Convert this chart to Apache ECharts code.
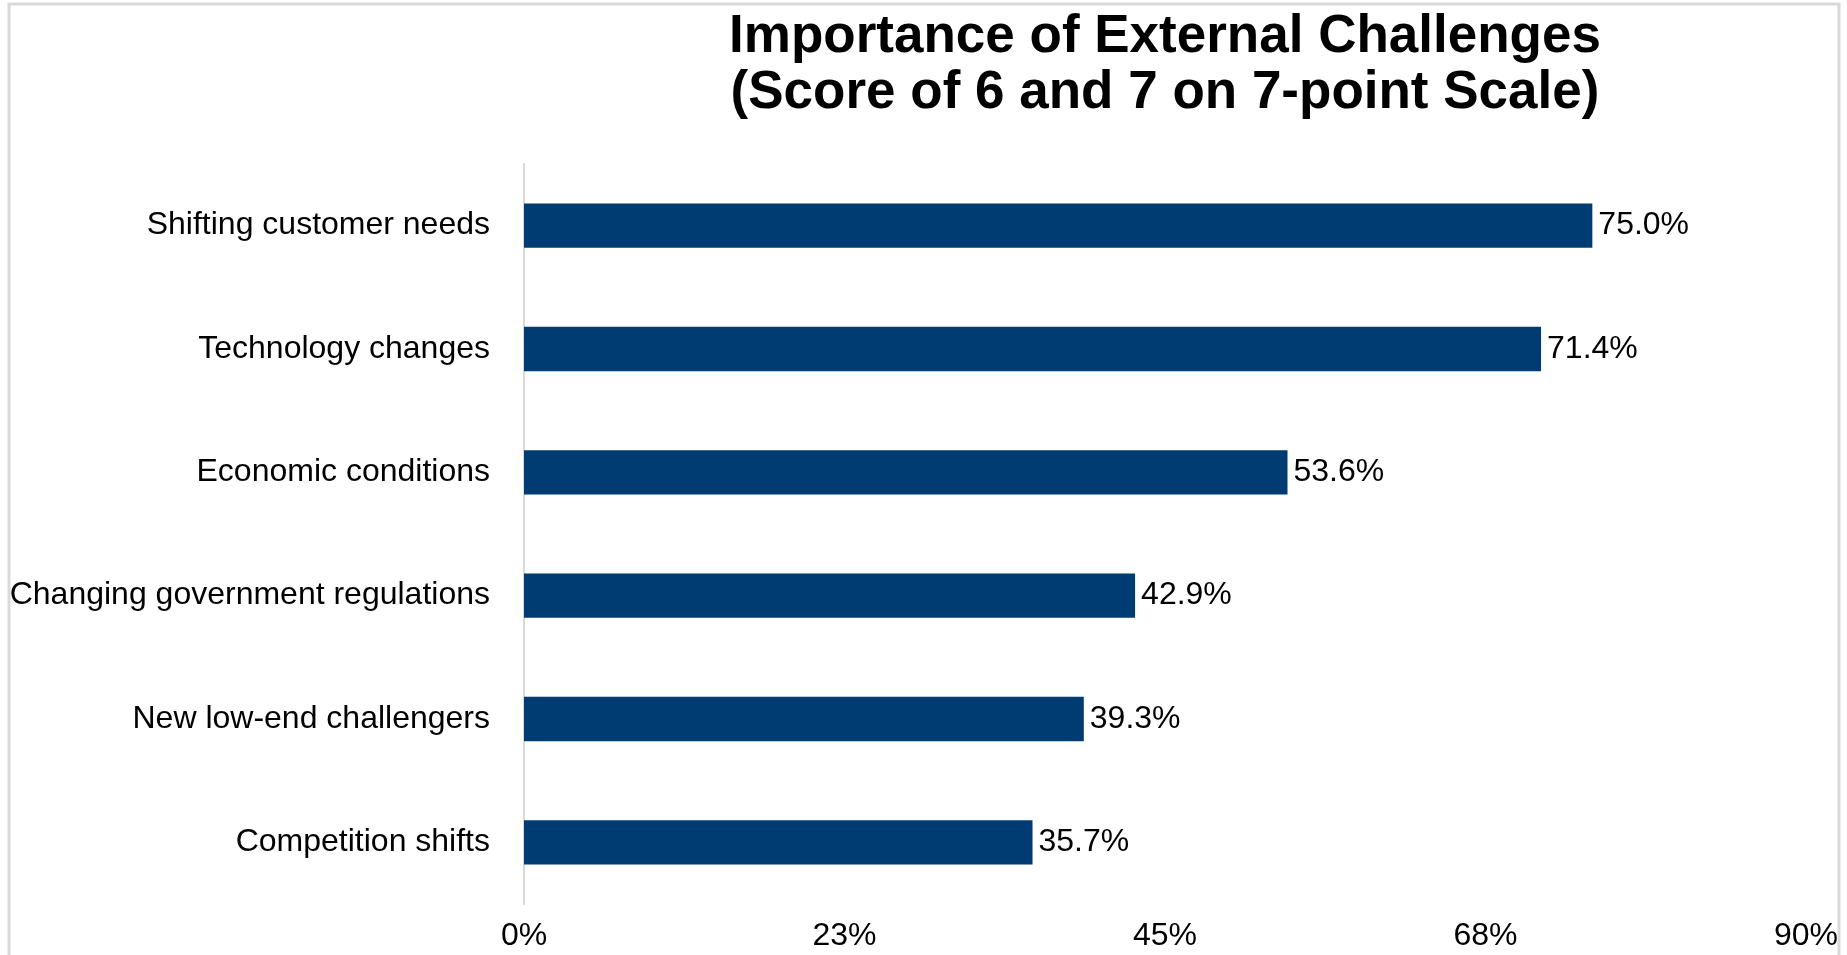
<!DOCTYPE html>
<html>
<head>
<meta charset="utf-8">
<title>Importance of External Challenges</title>
<script src="https://cdn.jsdelivr.net/npm/echarts@6/dist/echarts.min.js"></script>
<style>
  html, body { margin: 0; padding: 0; background: #fff; }
  #chart { width: 1847px; height: 955px; }
</style>
</head>
<body>
<div id="chart"></div>
<script>
// data (top to bottom)
const categories = [
  "Shifting customer needs",
  "Technology changes",
  "Economic conditions",
  "Changing government regulations",
  "New low-end challengers",
  "Competition shifts",
];
const shares = [75.0, 71.4, 53.6, 42.9, 39.3, 35.7];
const axisMax = 90;
const axisStep = 22.5;

const font = "Arial, 'Liberation Sans', sans-serif";

const mychart = echarts.init(document.getElementById("chart"));
mychart.setOption({
  backgroundColor: "#fff",
  animation: false,
  title: {
    text: "Importance of External Challenges\n(Score of 6 and 7 on 7-point Scale)",
    left: 1165,
    top: 9,
    padding: 0,
    textAlign: "center",
    textStyle: {
      fontFamily: font,
      fontSize: 53,
      fontWeight: "bold",
      color: "#000",
      lineHeight: 56,
    },
  },
  // light frame around the chart area
  graphic: [
    {
      type: "rect",
      silent: true,
      shape: { x: 9, y: 4, width: 1830, height: 1000 },
      style: { fill: "none", stroke: "#d9d9d9", lineWidth: 3 },
    },
  ],
  grid: {
    left: 524,
    right: 41,
    top: 164,
    bottom: 51,
  },
  xAxis: {
    type: "value",
    min: 0,
    max: axisMax,
    interval: axisStep,
    axisLine: { show: false },
    axisTick: { show: false },
    splitLine: { show: false },
    axisLabel: {
      margin: 16,
      fontFamily: font,
      fontSize: 32,
      color: "#000",
      formatter: (v) => Math.round(v) + "%",
    },
  },
  yAxis: {
    type: "category",
    inverse: true,
    data: categories,
    axisLine: { show: true, lineStyle: { color: "#d9d9d9", width: 2 } },
    axisTick: { show: false },
    axisLabel: {
      margin: 34,
      fontFamily: font,
      fontSize: 32,
      color: "#000",
    },
  },
  series: [
    {
      type: "bar",
      data: shares,
      barWidth: "36%",
      itemStyle: { color: "#003b71" },
      label: {
        show: true,
        position: "right",
        distance: 6,
        fontFamily: font,
        fontSize: 32,
        color: "#000",
        formatter: (p) => p.value.toFixed(1) + "%",
      },
    },
  ],
});
</script>
</body>
</html>
